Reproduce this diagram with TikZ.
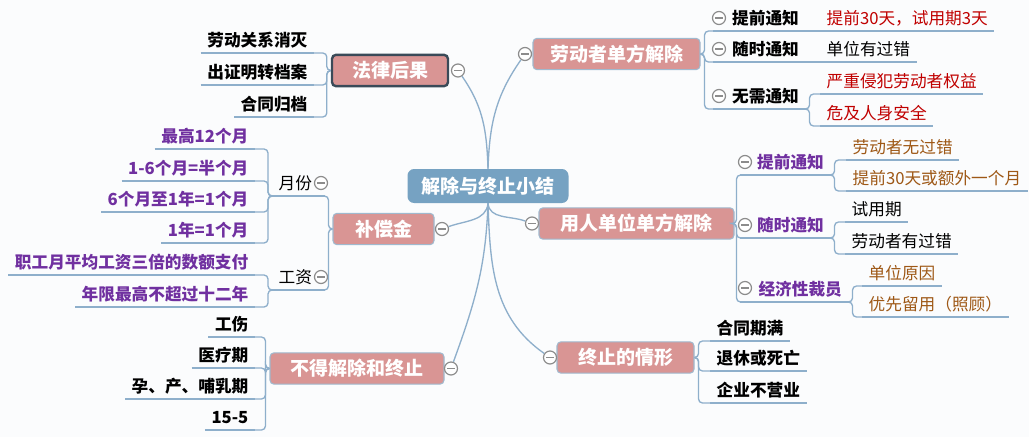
\documentclass[tikz,border=0pt]{standalone}
\usepackage{fontspec}
\setmainfont{Noto Sans CJK SC}
\usepackage{tikz}
\definecolor{MapBg}{RGB}{251,252,253}
\definecolor{MapLine}{RGB}{142,175,203}
\definecolor{MapRoot}{RGB}{118,162,194}
\definecolor{MapTopic}{RGB}{217,149,148}
\definecolor{MapEdge}{RGB}{160,185,206}
\definecolor{MapSel}{RGB}{58,74,88}
\definecolor{MapFold}{RGB}{140,140,140}
\definecolor{MapPurple}{RGB}{112,48,160}
\definecolor{MapRed}{RGB}{192,0,0}
\definecolor{MapBrown}{RGB}{158,88,22}

\begin{document}
\begin{tikzpicture}[x=0.75pt, y=-0.75pt,
    conn/.style={draw=MapLine, line width=1pt, rounded corners=3pt},
    rootbox/.style={rectangle, rounded corners=5pt, fill=MapRoot, text=white,
                    font=\fontsize{14.25}{16}\selectfont\bfseries,
                    text height=12pt, text depth=1.2pt, minimum height=25.5pt},
    topic/.style={rectangle, rounded corners=3pt, fill=MapTopic, draw=MapEdge,
                  line width=0.8pt, text=white,
                  font=\fontsize{14.25}{16}\selectfont\bfseries,
                  text height=12pt, text depth=1.2pt, minimum height=23.5pt},
    fold/.style={circle, draw=MapFold, fill=white, line width=0.9pt,
                 minimum size=9.75pt, inner sep=0pt,
                 path picture={\draw[MapFold, line width=0.9pt]
                   ([xshift=-2.8pt]path picture bounding box.center) --
                   ([xshift=2.8pt]path picture bounding box.center);}},
    leaf/.style={font=\fontsize{12.5}{15}\selectfont, text height=10pt,
                 text depth=3pt, inner xsep=4.8pt, inner ysep=1.6pt,
                 append after command={(\tikzlastnode.south west)
                   edge[conn] (\tikzlastnode.south east)}},
    leafb/.style={leaf, font=\fontsize{12.5}{15}\selectfont\bfseries}
  ]
  \fill[MapBg] (0,0) rectangle (1029,437);
  \useasboundingbox (0,0) rectangle (1029,437);

  \node[rootbox, minimum width=120.75pt] (root) at (488,186) {解除与终止小结};

  \node[topic, draw=MapSel, line width=1.8pt, minimum width=87pt,
        minimum height=23.5pt]                       (legal)    at (390,70.5)  {法律后果};
  \node[topic, minimum width=125.25pt]               (worker)   at (616.5,54)  {劳动者单方解除};
  \node[topic, minimum width=146.25pt]               (employer) at (636.5,223.5) {用人单位单方解除};
  \node[topic, minimum width=75.75pt]                (comp)     at (383.5,229) {补偿金};
  \node[topic, minimum width=130.5pt]                (noterm)   at (357,368.5) {不得解除和终止};
  \node[topic, minimum width=102.75pt]               (ending)   at (625.5,357.5) {终止的情形};

  \node[fold] (legalF)    at (458,70.5) {};
  \node[fold] (workerF)   at (525,54) {};
  \node[fold] (employerF) at (532,223.5) {};
  \node[fold] (compF)     at (442,229) {};
  \node[fold] (notermF)   at (451,368.5) {};
  \node[fold] (endingF)   at (550,357.5) {};

  \draw[conn] (root.north) to[out=92, in=-55]  (legalF);
  \draw[conn] (root.north) to[out=88, in=-125] (workerF);
  \draw[conn] (root.south) to[out=-95, in=20]  (compF);
  \draw[conn] (root.south) to[out=-85, in=160] (employerF);
  \draw[conn] (root.south) to[out=-92, in=70]  (notermF);
  \draw[conn] (root.south) to[out=-88, in=145] (endingF);

  % left side
  \node[leafb, anchor=south east] (lg1) at (314,53)  {劳动关系消灭};
  \node[leafb, anchor=south east] (lg2) at (314,85)  {出证明转档案};
  \node[leafb, anchor=south east] (lg3) at (314,117) {合同归档};
  \foreach \k in {lg1,lg2,lg3}
    \draw[conn] (legal.west) -- ++(-4,0) |- (\k.south east);

  \node[leaf, anchor=south west, text width=29.4pt, align=left] (yue) at (272,196) {月份};
  \node[leaf, anchor=south west, text width=29.4pt, align=left] (gz)  at (272,290) {工资};
  \node[fold] (yueF) at (321,183) {};
  \node[fold] (gzF)  at (321,277) {};
  \foreach \k in {yue,gz}
    \draw[conn] (comp.west) -- ++(-4,0) |- (\k.south east);

  \node[leafb, text=MapPurple, anchor=south east] (m1) at (255,149) {最高12个月};
  \node[leafb, text=MapPurple, anchor=south east] (m2) at (255,181) {1-6个月=半个月};
  \node[leafb, text=MapPurple, anchor=south east] (m3) at (255,212) {6个月至1年=1个月};
  \node[leafb, text=MapPurple, anchor=south east] (m4) at (255,243) {1年=1个月};
  \foreach \k in {m1,m2,m3,m4}
    \draw[conn] (yue.south west) -- ++(-4,0) |- (\k.south east);

  \node[leafb, text=MapPurple, anchor=south east] (g1) at (255,275) {职工月平均工资三倍的数额支付};
  \node[leafb, text=MapPurple, anchor=south east] (g2) at (255,307) {年限最高不超过十二年};
  \foreach \k in {g1,g2}
    \draw[conn] (gz.south west) -- ++(-4,0) |- (\k.south east);

  \node[leafb, anchor=south east] (n1) at (255,337) {工伤};
  \node[leafb, anchor=south east] (n2) at (255,368) {医疗期};
  \node[leafb, anchor=south east] (n3) at (255,399) {孕、产、哺乳期};
  \node[leafb, anchor=south east] (n4) at (255,430) {15-5};
  \foreach \k in {n1,n2,n3,n4}
    \draw[conn] (noterm.west) -- ++(-4,0) |- (\k.south east);

  % right side
  \node[leafb, anchor=south west, text width=59.4pt, align=right] (w1) at (713,31)  {提前通知};
  \node[leafb, anchor=south west, text width=59.4pt, align=right] (w2) at (713,62)  {随时通知};
  \node[leafb, anchor=south west, text width=59.4pt, align=right] (w3) at (713,109) {无需通知};
  \node[fold] (w1F) at (719,18) {};
  \node[fold] (w2F) at (719,49) {};
  \node[fold] (w3F) at (719,96) {};
  \foreach \k in {w1,w2,w3}
    \draw[conn] (worker.east) -- ++(4,0) |- (\k.south west);

  \node[leaf, text=MapRed, anchor=south west] (wg1) at (820,31)  {提前30天，试用期3天};
  \node[leaf, anchor=south west]              (wg2) at (820,62)  {单位有过错};
  \node[leaf, text=MapRed, anchor=south west] (wg3) at (820,94)  {严重侵犯劳动者权益};
  \node[leaf, text=MapRed, anchor=south west] (wg4) at (820,126) {危及人身安全};
  \draw[conn] (w1.south east) -- (wg1.south west);
  \draw[conn] (w2.south east) -- (wg2.south west);
  \foreach \k in {wg3,wg4}
    \draw[conn] (w3.south east) -- ++(4,0) |- (\k.south west);

  \node[leafb, text=MapPurple, anchor=south west, text width=57.9pt, align=right] (e1) at (740,175) {提前通知};
  \node[leafb, text=MapPurple, anchor=south west, text width=57.9pt, align=right] (e2) at (740,238) {随时通知};
  \node[leafb, text=MapPurple, anchor=south west, text width=71.4pt, align=right] (e3) at (740,302) {经济性裁员};
  \node[fold] (e1F) at (745,162) {};
  \node[fold] (e2F) at (745,225) {};
  \node[fold] (e3F) at (745,288) {};
  \foreach \k in {e1,e2,e3}
    \draw[conn] (employer.east) -- ++(2,0) |- (\k.south west);

  \node[leaf, text=MapBrown, anchor=south west] (eg1) at (846,160) {劳动者无过错};
  \node[leaf, text=MapBrown, anchor=south west] (eg2) at (846,191) {提前30天或额外一个月};
  \node[leaf, anchor=south west]                (eg3) at (845,222) {试用期};
  \node[leaf, anchor=south west]                (eg4) at (845,254) {劳动者有过错};
  \node[leaf, text=MapBrown, anchor=south west] (eg5) at (862,286) {单位原因};
  \node[leaf, text=MapBrown, anchor=south west] (eg6) at (862,317) {优先留用（照顾）};
  \foreach \k in {eg1,eg2}
    \draw[conn] (e1.south east) -- ++(4,0) |- (\k.south west);
  \foreach \k in {eg3,eg4}
    \draw[conn] (e2.south east) -- ++(4,0) |- (\k.south west);
  \foreach \k in {eg5,eg6}
    \draw[conn] (e3.south east) -- ++(4,0) |- (\k.south west);

  \node[leafb, anchor=south west] (t1) at (710,341) {合同期满};
  \node[leafb, anchor=south west] (t2) at (710,371) {退休或死亡};
  \node[leafb, anchor=south west] (t3) at (710,403) {企业不营业};
  \foreach \k in {t1,t2,t3}
    \draw[conn] (ending.east) -- ++(4,0) |- (\k.south west);
\end{tikzpicture}
\end{document}
